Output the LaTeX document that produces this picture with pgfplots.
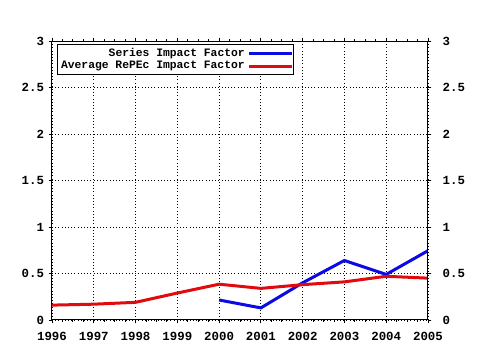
\documentclass[border=0pt]{standalone}
\usepackage{pgfplots}
\pgfplotsset{compat=1.18}
\usepackage{fontspec}
\setmainfont{Liberation Mono}
\setmonofont{Liberation Mono}
\definecolor{serblue}{RGB}{10,10,225}
\definecolor{repred}{RGB}{225,10,15}
\begin{document}
\begin{tikzpicture}
\pgfplotsset{
  common/.style={
    scale only axis,
    width=282pt, height=209.25pt,
    xmin=1996, xmax=2005,
    ymin=0, ymax=3,
    ytick={0,0.5,1,1.5,2,2.5,3},
    tick align=outside,
    major tick length=2.5pt,
    minor tick length=1.5pt,
    tick style={black, line width=0.6pt},
    axis line style={black, line width=0.75pt},
    tick label style={font=\fontsize{9.3}{10}\selectfont\bfseries},
    /pgf/number format/assume math mode=true,
  }
}
\begin{axis}[common,
  name=main,
  xtick={1996,1997,1998,1999,2000,2001,2002,2003,2004,2005},
  xticklabels={1996,1997,1998,1999,2000,2001,2002,2003,2004,2005},
  minor x tick num=3,
  xtick pos=both, ytick pos=both,
  yticklabel pos=left,
  grid=major,
  grid style={black, dotted, line width=0.6pt},
  xticklabel style={yshift=-3pt},
  legend cell align=right,
  legend plot pos=right,
  legend style={at={(rel axis cs:0.014,0.989)}, anchor=north west,
    draw=black, line width=0.75pt, inner sep=0.5pt, row sep=-1.5pt,
    font=\fontsize{8.5}{9}\selectfont\bfseries},
  legend image code/.code={\draw[#1, line width=2.25pt] (0pt,0pt) -- (32pt,0pt);},
]
\addplot[serblue, line width=2.25pt] coordinates {
 (2000,0.215) (2001,0.13) (2002,0.40) (2003,0.64) (2004,0.49) (2005,0.745)};
\addlegendentry{Series Impact Factor}
\addplot[repred, line width=2.25pt] coordinates {
 (1996,0.16) (1997,0.17) (1998,0.19) (1999,0.29) (2000,0.385) (2001,0.34) (2002,0.38) (2003,0.41) (2004,0.47) (2005,0.45)};
\addlegendentry{Average RePEc Impact Factor}
\end{axis}
\begin{axis}[common,
  axis x line=none,
  axis y line*=right,
  xtick=\empty,
  yticklabel style={xshift=5pt},
]
\end{axis}
\path (main.south west) ++(-39pt,-22.5pt) rectangle ++(360pt,262.5pt);
\end{tikzpicture}
\end{document}
